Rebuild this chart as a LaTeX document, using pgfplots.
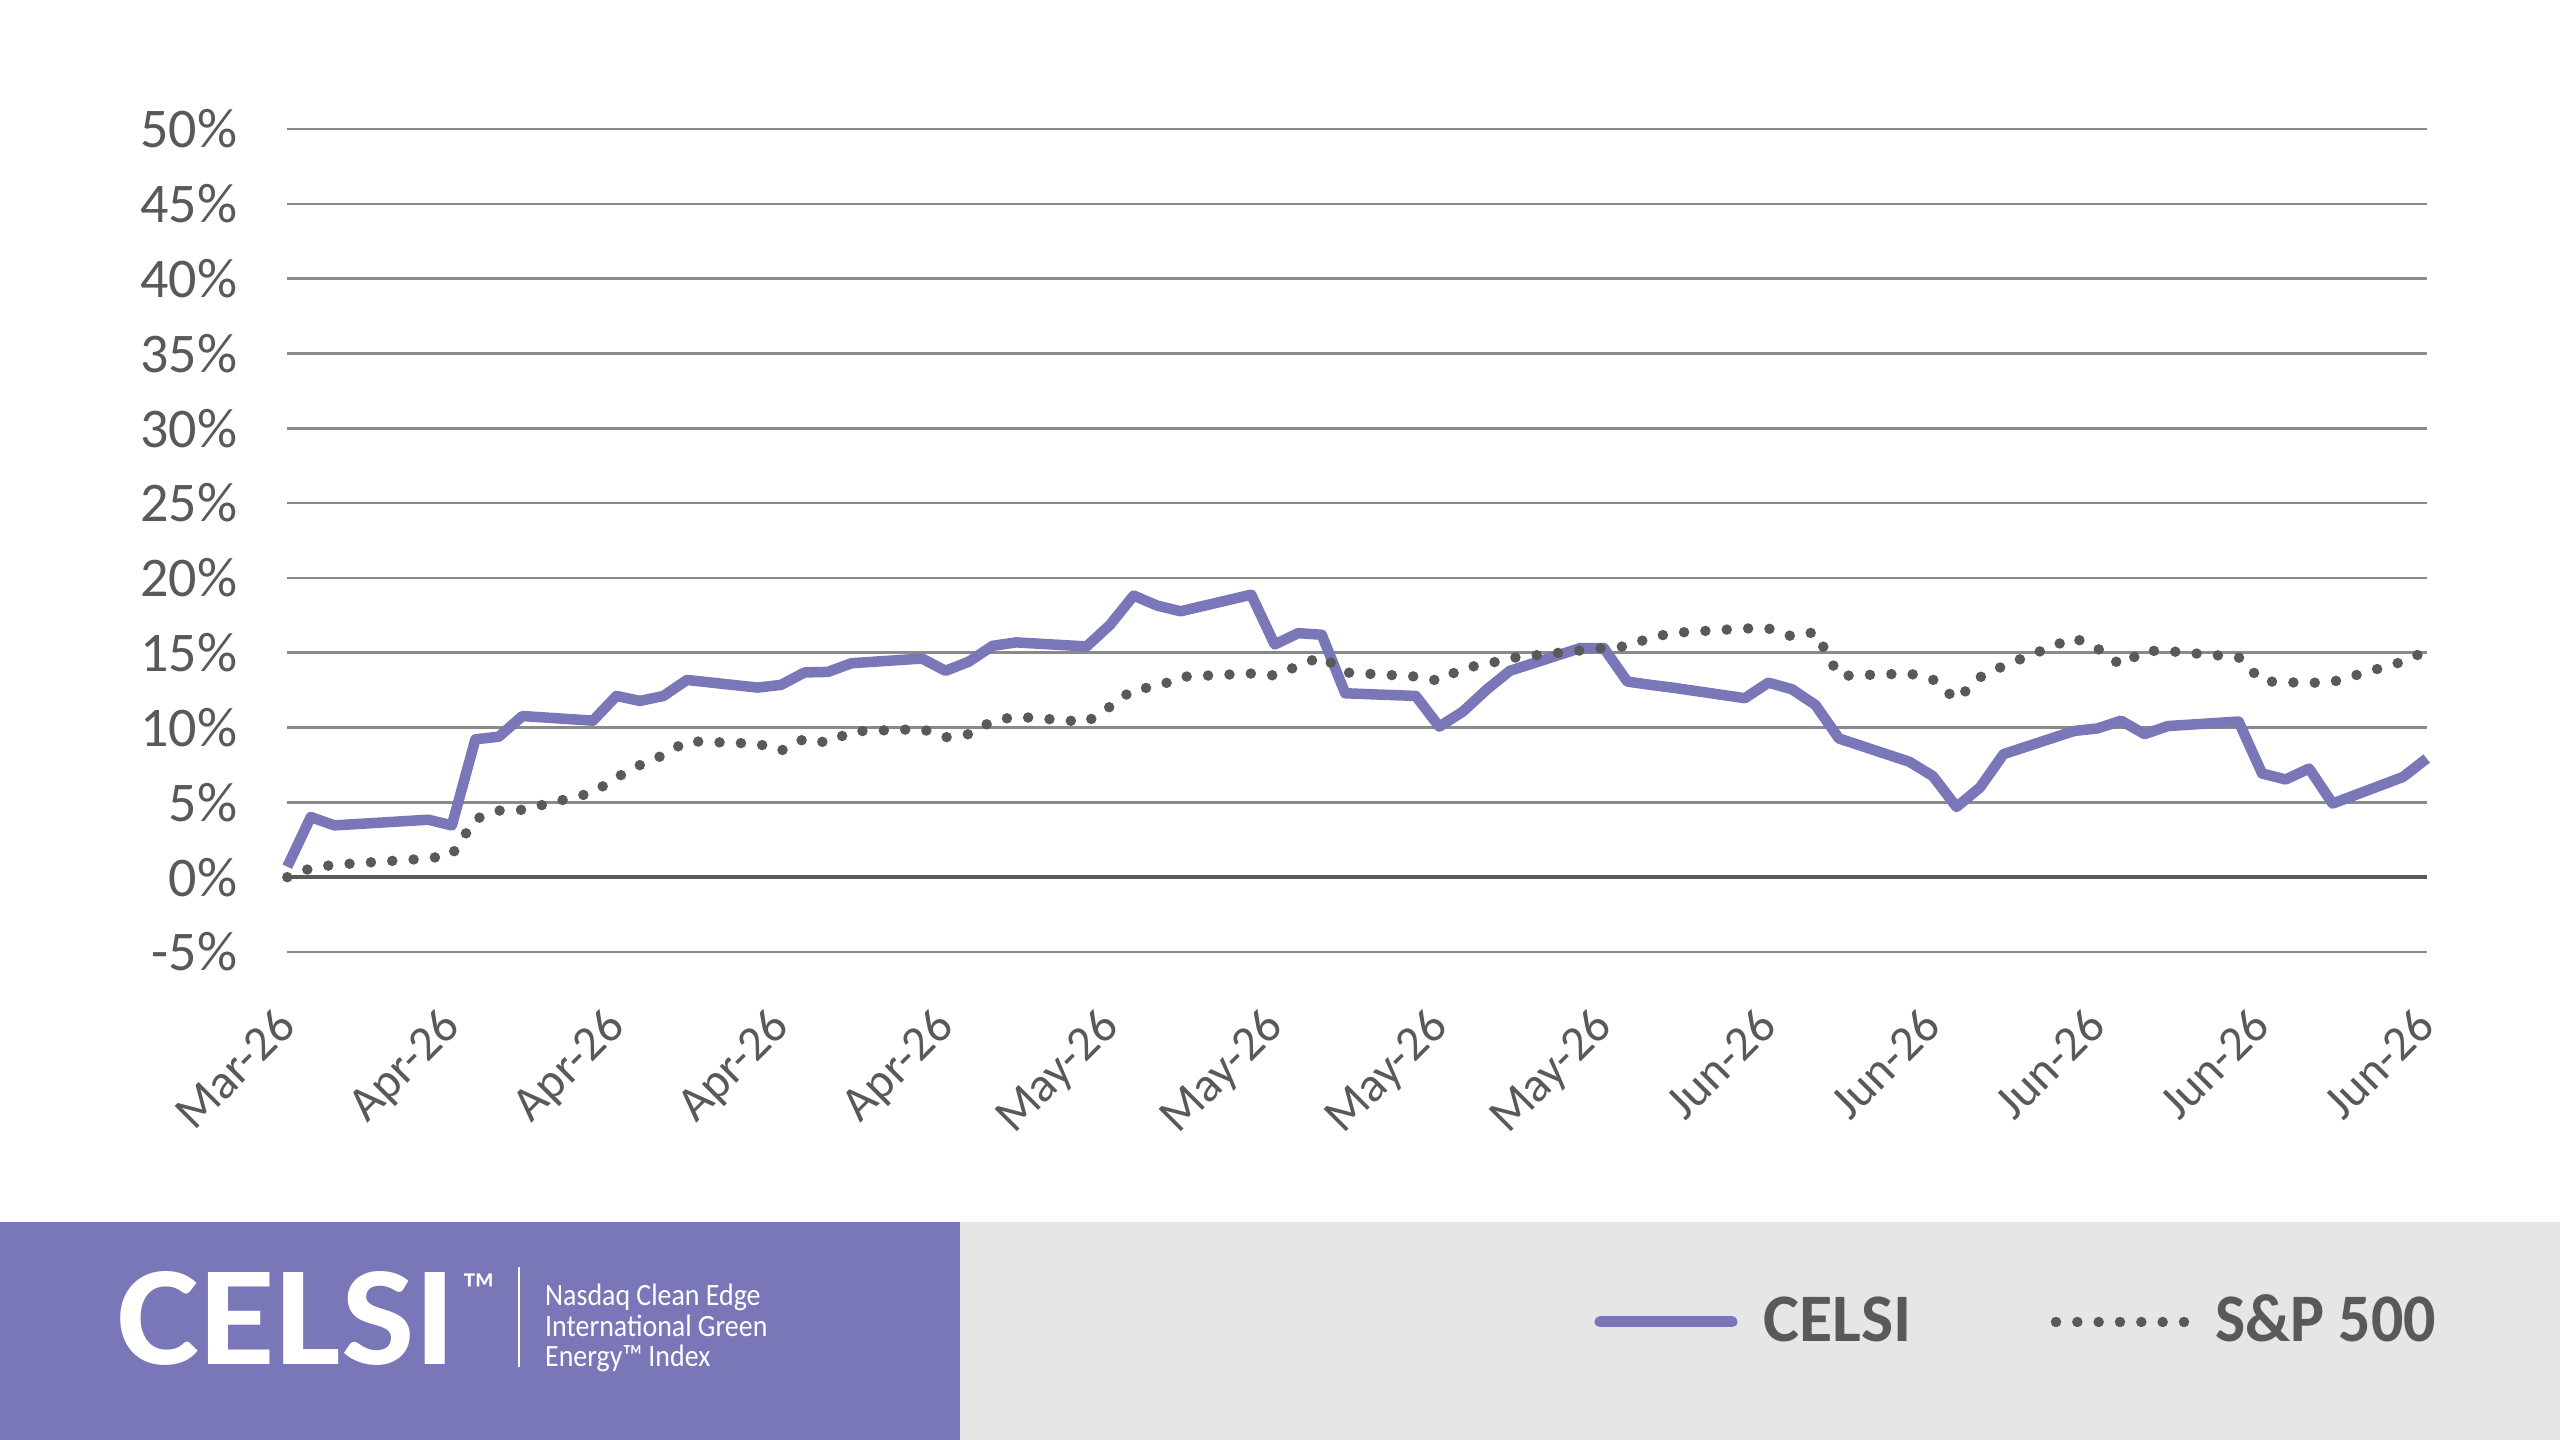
\documentclass[border=0pt]{standalone}
\usepackage{pgfplots}
\pgfplotsset{compat=1.18}
\usepackage{fontspec}
\setmainfont{Carlito}
\definecolor{celsi}{HTML}{7977B8}
\definecolor{txtgray}{HTML}{595959}
\definecolor{gridgray}{HTML}{8A8A8A}
\definecolor{bannergray}{HTML}{E6E6E6}
\begin{document}
\begin{tikzpicture}[x=1pt,y=1pt]
\useasboundingbox (0,0) rectangle (2560,1440);
\fill[white] (0,0) rectangle (2560,1440);
\fill[celsi] (0,0) rectangle (960,218);
\fill[bannergray] (960,0) rectangle (2560,218);
\begin{axis}[
  at={(287.3pt,488pt)}, anchor=south west,
  scale only axis, width=2139.4pt, height=823pt,
  xmin=0, xmax=91, ymin=-5, ymax=50,
  axis line style={draw=none},
  tick style={draw=none},
  major tick length=0pt,
  ymajorgrids,
  grid style={gridgray, line width=2.5pt},
  ytick={-5,0,5,10,15,20,25,30,35,40,45,50},
  yticklabels={-5\%,0\%,5\%,10\%,15\%,20\%,25\%,30\%,35\%,40\%,45\%,50\%},
  extra y ticks={0},
  extra y tick labels={},
  extra y tick style={grid style={txtgray, line width=4.5pt}},
  xtick={0,7,14,21,28,35,42,49,56,63,70,77,84,91},
  xticklabels={Mar-26,Apr-26,Apr-26,Apr-26,Apr-26,May-26,May-26,May-26,May-26,Jun-26,Jun-26,Jun-26,Jun-26,Jun-26},
  yticklabel style={font=\fontsize{56}{60}\selectfont, text=txtgray, anchor=east, inner sep=0pt, xshift=-50pt},
  xticklabel style={font=\fontsize{49}{52}\selectfont, text=txtgray, inner sep=0pt, xshift=-13pt, yshift=-53pt, rotate=45, anchor=north east},
  clip=false,
]
\addplot[celsi, line width=10.5pt, line join=round] table[x=d, y=v] {
d v
0 0.7
1 4.02
2 3.46
6 3.84
7 3.46
8 9.21
9 9.39
10 10.77
13 10.46
14 12.11
15 11.78
16 12.11
17 13.18
20 12.67
21 12.85
22 13.68
23 13.72
24 14.30
27 14.61
28 13.79
29 14.41
30 15.46
31 15.69
34 15.42
35 16.87
36 18.82
37 18.15
38 17.77
41 18.88
42 15.55
43 16.31
44 16.20
45 12.29
48 12.11
49 10.06
50 11.06
51 12.51
52 13.79
55 15.31
56 15.31
57 13.07
58 12.85
59 12.65
62 11.96
63 13.00
64 12.56
65 11.51
66 9.27
69 7.71
70 6.75
71 4.69
72 5.99
73 8.22
76 9.77
77 9.94
78 10.46
79 9.56
80 10.10
83 10.40
84 6.93
85 6.53
86 7.26
87 4.92
90 6.70
91 7.93
};
\addplot[txtgray, line width=10.5pt, line cap=round, line join=round, dash pattern=on 0pt off 21.4pt] table[x=d, y=v] {
d v
0 0.00
1 0.60
2 0.83
6 1.25
7 1.50
8 3.88
9 4.45
10 4.50
13 5.65
14 6.66
15 7.49
16 8.16
17 9.09
20 8.92
21 8.45
22 9.25
23 8.98
24 9.74
27 9.90
28 9.35
29 9.56
30 10.44
31 10.73
34 10.37
35 11.40
36 12.56
37 12.72
38 13.39
41 13.61
42 13.48
43 14.12
44 14.75
45 13.68
48 13.41
49 13.12
50 13.97
51 14.23
52 14.64
55 15.15
56 15.31
57 15.44
58 16.02
59 16.33
62 16.62
63 16.62
64 16.09
65 16.38
66 13.45
69 13.61
70 13.20
71 11.85
72 13.36
73 14.12
76 16.00
77 15.28
78 14.17
79 15.13
80 15.11
83 14.70
84 13.10
85 13.03
86 12.98
87 13.05
90 14.41
91 15.13
};
\end{axis}
% logo
\node[anchor=base west, inner sep=0pt, text=white] at (117.5,75) {\resizebox{338.5pt}{93pt}{\bfseries CELSI}};
\node[anchor=north west, inner sep=0pt, text=white] at (462,166) {\resizebox{33pt}{!}{™}};
\draw[white, line width=2pt] (519,73) -- (519,173);
\node[anchor=base west, inner sep=0pt, text=white] at (545,134) {\fontsize{31}{31}\selectfont\scalebox{0.9}[1]{Nasdaq Clean Edge}};
\node[anchor=base west, inner sep=0pt, text=white] at (545,103) {\fontsize{31}{31}\selectfont\scalebox{0.9}[1]{International Green}};
\node[anchor=base west, inner sep=0pt, text=white] at (545,73) {\fontsize{31}{31}\selectfont\scalebox{0.9}[1]{Energy™ Index}};
% legend
\draw[celsi, line width=11pt, line cap=round] (1600,118) -- (1732,118);
\node[anchor=base west, inner sep=0pt, text=txtgray] at (1763,98) {\fontsize{68}{68}\selectfont\bfseries CELSI};
\draw[txtgray, line width=10.5pt, line cap=round, dash pattern=on 0pt off 21.33pt] (2056,118) -- (2184.1,118);
\node[anchor=base west, inner sep=0pt, text=txtgray] at (2215,98) {\fontsize{68}{68}\selectfont\bfseries\scalebox{0.94}[1]{S\&P 500}};
\end{tikzpicture}
\end{document}
